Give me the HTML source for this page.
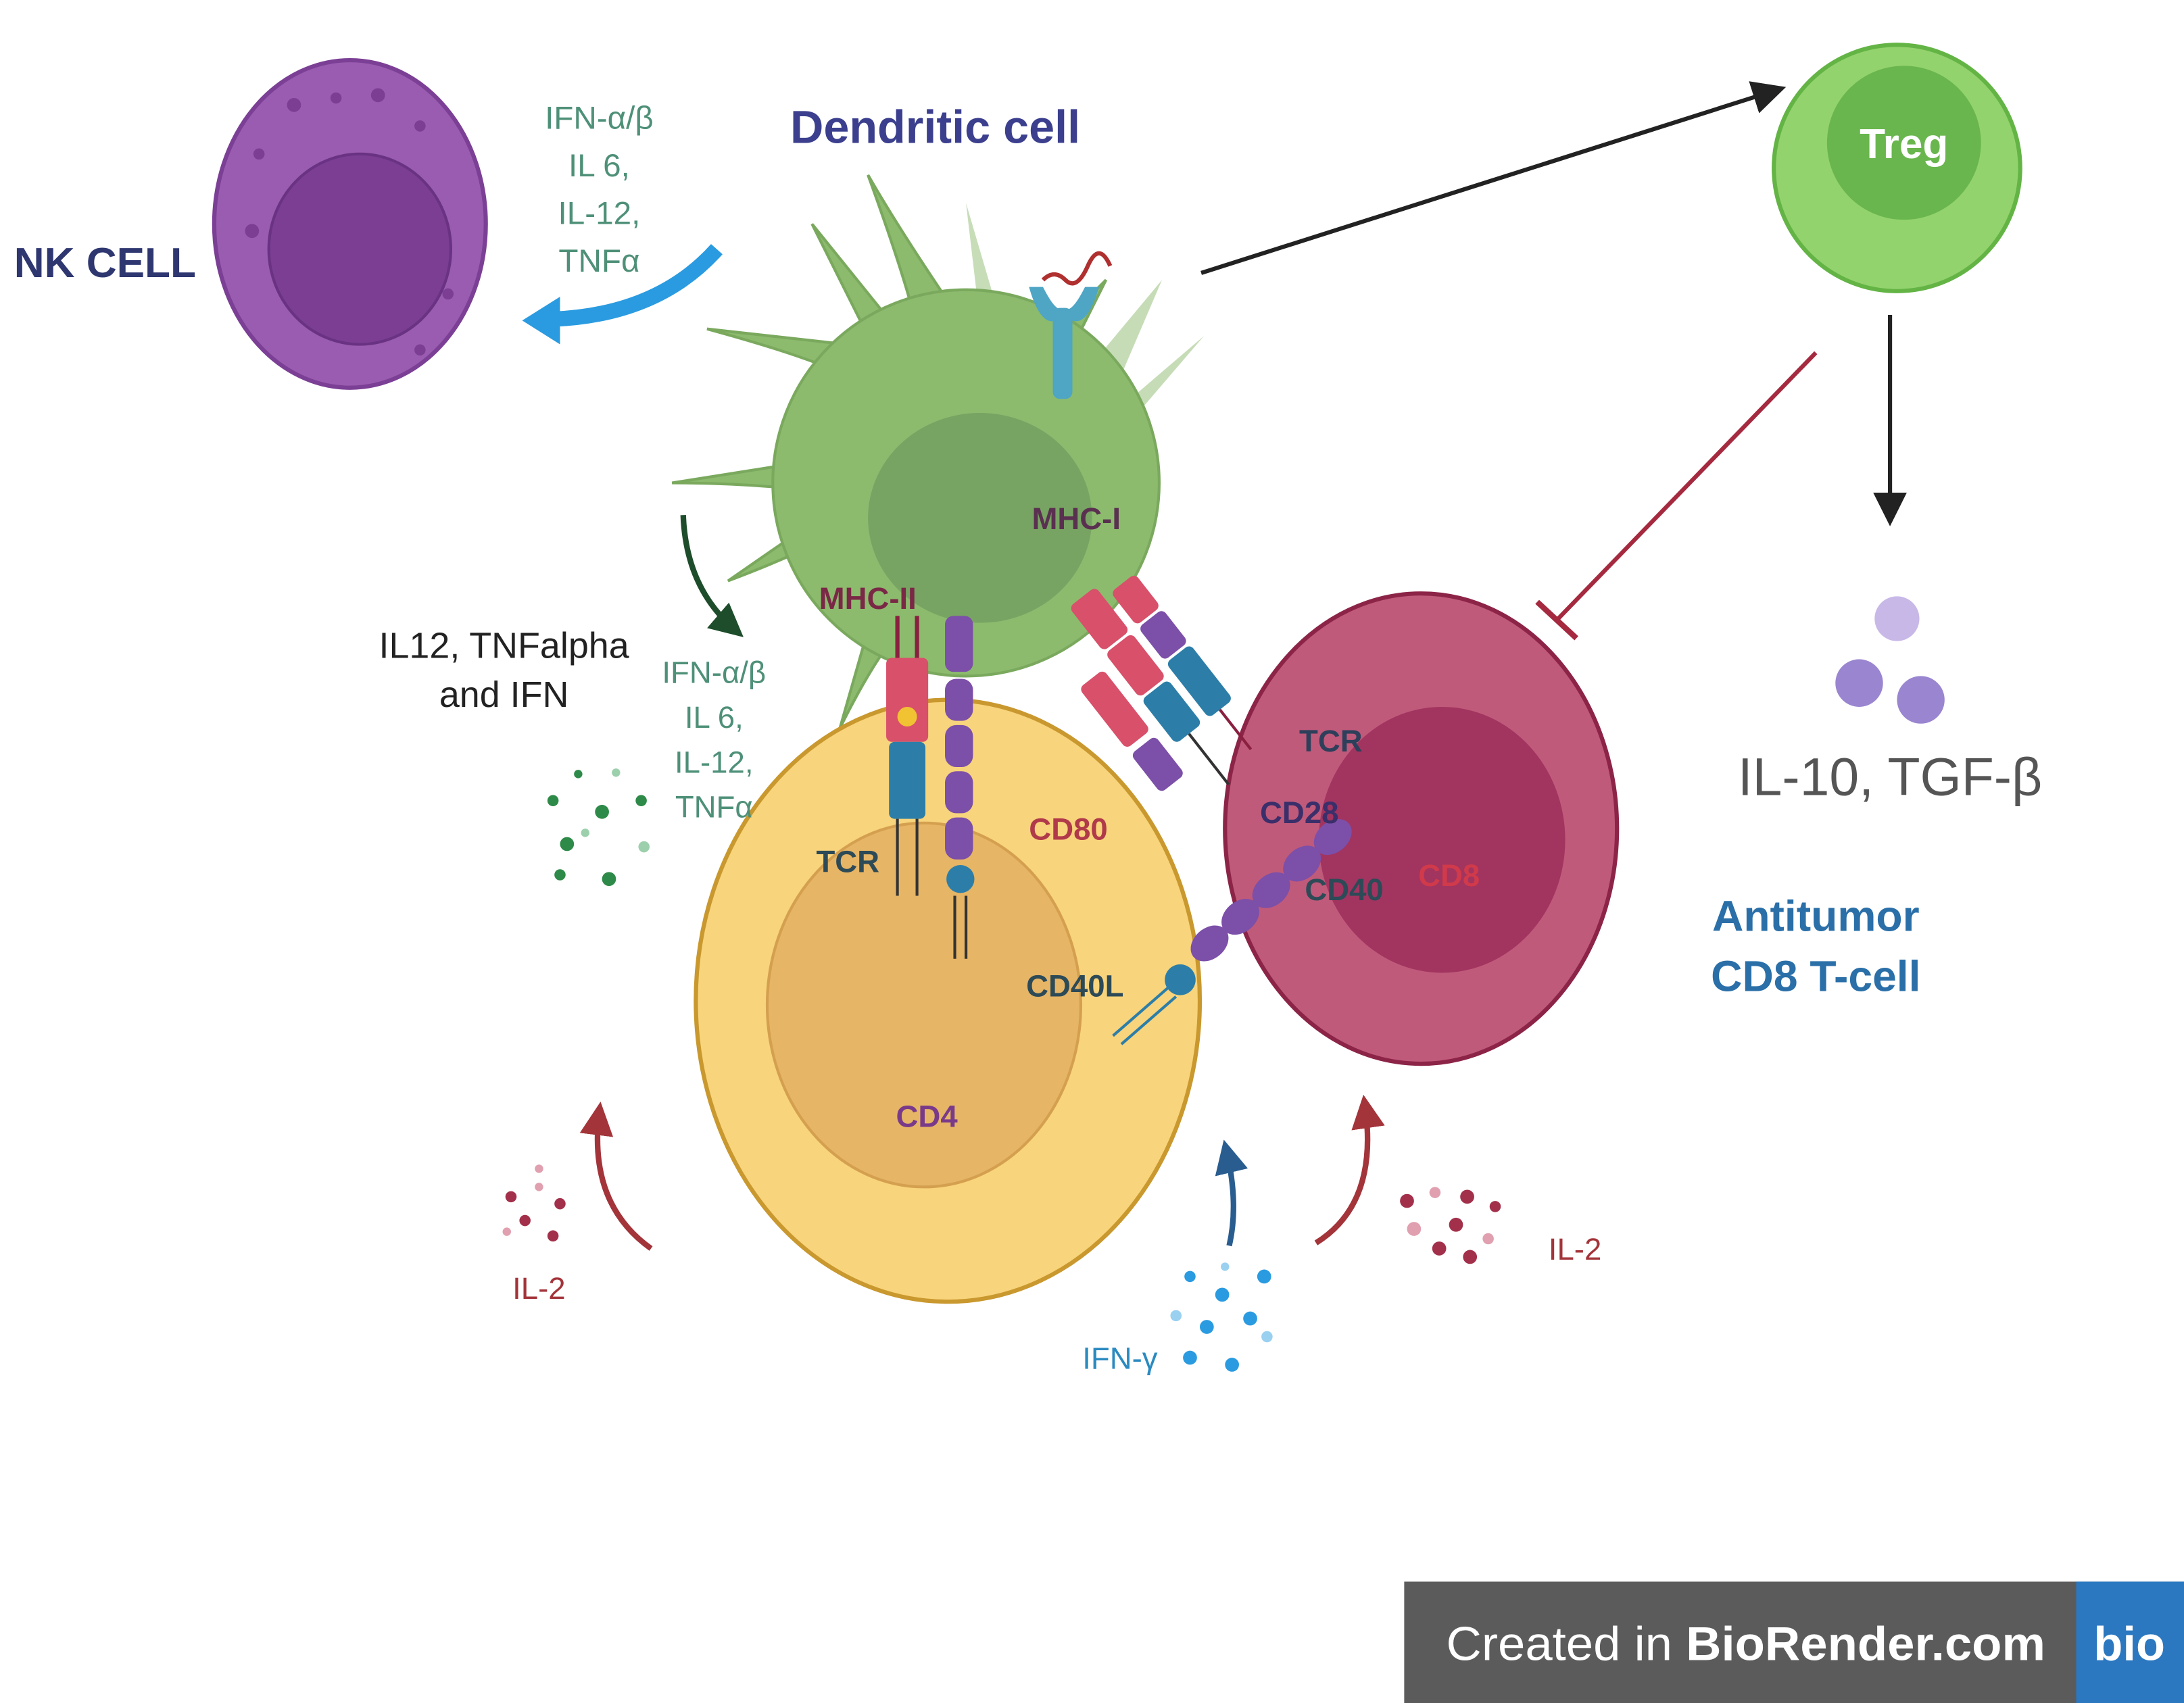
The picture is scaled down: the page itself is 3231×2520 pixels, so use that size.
<!DOCTYPE html>
<html><head><meta charset="utf-8"><style>
html,body{margin:0;padding:0;background:#fff;}
svg{display:block;}
text{font-family:"Liberation Sans",Arial,sans-serif;}
</style></head><body>
<svg width="3231" height="2520" viewBox="0 0 1560 1216.7" xmlns="http://www.w3.org/2000/svg">
<defs>
<marker id="ab" markerWidth="8" markerHeight="8" refX="6" refY="4" orient="auto" markerUnits="strokeWidth"><path d="M0,0 L8,4 L0,8 Z" fill="#222"/></marker>
<marker id="ag" markerWidth="6" markerHeight="6" refX="4" refY="3" orient="auto" markerUnits="strokeWidth"><path d="M0,0 L6,3 L0,6 Z" fill="#1e4d2b"/></marker>
<marker id="ar" markerWidth="6" markerHeight="6" refX="4" refY="3" orient="auto" markerUnits="strokeWidth"><path d="M0,0 L6,3 L0,6 Z" fill="#a3343a"/></marker>
<marker id="abl" markerWidth="6" markerHeight="6" refX="4" refY="3" orient="auto" markerUnits="strokeWidth"><path d="M0,0 L6,3 L0,6 Z" fill="#2a5d8f"/></marker>
</defs>
<rect width="1560" height="1217" fill="#fff"/>

<!-- NK cell -->
<ellipse cx="250" cy="160" rx="97" ry="117" fill="#9a5cb0" stroke="#7b3f95" stroke-width="3"/>
<ellipse cx="257" cy="178" rx="65" ry="68" fill="#7b3e93" stroke="#6a3282" stroke-width="2"/>
<g fill="#7b3e93"><circle cx="210" cy="75" r="5"/><circle cx="240" cy="70" r="4"/><circle cx="270" cy="68" r="5"/><circle cx="185" cy="110" r="4"/><circle cx="300" cy="90" r="4"/><circle cx="180" cy="165" r="5"/><circle cx="320" cy="210" r="4"/><circle cx="300" cy="250" r="4"/></g>
<text x="10" y="198" font-size="30" font-weight="bold" fill="#2e3770" textLength="130" lengthAdjust="spacingAndGlyphs">NK CELL</text>

<g font-size="23" fill="#4e9078" text-anchor="middle">
<text x="428" y="92">IFN-α/β</text><text x="428" y="126">IL 6,</text><text x="428" y="160">IL-12,</text><text x="428" y="194">TNFα</text>
</g>
<path d="M512,178 Q470,225 395,228" fill="none" stroke="#2a9be0" stroke-width="11"/>
<path d="M373,229 L400,212 L400,246 Z" fill="#2a9be0"/>

<text x="668" y="102" font-size="33" font-weight="bold" fill="#3b3f8e" text-anchor="middle">Dendritic cell</text>

<!-- Dendritic cell -->
<g fill="#b9d4a6" opacity="0.8">
<path d="M690,145 L700,230 L715,230 Z"/><path d="M830,200 L780,260 L800,270 Z"/><path d="M860,240 L790,300 L800,310 Z"/>
</g>
<g fill="#8cbb6e" stroke="#7aa95e" stroke-width="2">
<path d="M620,125 Q640,180 650,215 L675,212 Q640,160 620,125 Z"/>
<path d="M580,160 Q600,200 615,230 L630,222 Z"/>
<path d="M505,235 Q560,250 590,262 L595,245 Z"/>
<path d="M480,345 Q530,345 575,350 L575,330 Z"/>
<path d="M520,415 Q560,400 590,385 L585,370 Z"/>
<path d="M600,520 Q620,480 635,460 L620,450 Z"/>
<path d="M790,200 Q760,230 745,250 L760,260 Z"/>
<circle cx="690" cy="345" r="138"/>
</g>
<ellipse cx="700" cy="370" rx="80" ry="75" fill="#78a463"/>
<g fill="#4ea5c4"><rect x="752" y="220" width="14" height="65" rx="5"/><path d="M735,205 Q745,240 760,225 Q775,240 785,205 L775,205 Q765,225 760,220 Q755,225 745,205 Z"/></g>
<path d="M745,200 q8,-8 16,0 t16,-10 t16,0" stroke="#b03030" stroke-width="3" fill="none"/>

<!-- arrows -->
<line x1="858" y1="195" x2="1270" y2="64" stroke="#222" stroke-width="3" marker-end="url(#ab)"/>
<line x1="1350" y1="225" x2="1350" y2="370" stroke="#222" stroke-width="3" marker-end="url(#ab)"/>
<line x1="1297" y1="252" x2="1112" y2="443" stroke="#a52a3f" stroke-width="3"/>
<line x1="1098" y1="430" x2="1126" y2="456" stroke="#a52a3f" stroke-width="4"/>

<!-- Treg -->
<circle cx="1355" cy="120" r="88" fill="#93d36e" stroke="#63b445" stroke-width="3"/>
<circle cx="1360" cy="102" r="55" fill="#6ab64e"/>
<text x="1360" y="113" font-size="30" font-weight="bold" fill="#fff" text-anchor="middle">Treg</text>

<circle cx="1355" cy="442" r="16" fill="#c8b8e8"/>
<circle cx="1328" cy="488" r="17" fill="#9a85d0"/>
<circle cx="1372" cy="500" r="17" fill="#9a85d0"/>
<text x="1350" y="568" font-size="38" fill="#555" text-anchor="middle">IL-10, TGF-β</text>

<text x="1297" y="665" font-size="31" font-weight="bold" fill="#2a6fa8" text-anchor="middle">Antitumor</text>
<text x="1297" y="708" font-size="31" font-weight="bold" fill="#2a6fa8" text-anchor="middle">CD8 T-cell</text>

<!-- CD8 cell -->
<ellipse cx="1015" cy="592" rx="140" ry="168" fill="#c05a7a" stroke="#8c2448" stroke-width="3"/>
<ellipse cx="1030" cy="600" rx="88" ry="95" fill="#a23460"/>

<!-- CD4 cell -->
<ellipse cx="677" cy="715" rx="180" ry="215" fill="#f8d47c" stroke="#c9982e" stroke-width="3"/>
<ellipse cx="660" cy="718" rx="112" ry="130" fill="#e6b566" stroke="#d4a050" stroke-width="2"/>

<!-- MHC-II / TCR -->
<rect x="633" y="470" width="30" height="60" rx="4" fill="#d8506a"/>
<circle cx="648" cy="512" r="7" fill="#f1c232"/>
<rect x="635" y="530" width="26" height="55" rx="4" fill="#2c7ea8"/>
<line x1="641" y1="440" x2="641" y2="470" stroke="#8a2040" stroke-width="3"/>
<line x1="655" y1="440" x2="655" y2="470" stroke="#8a2040" stroke-width="3"/>
<line x1="641" y1="585" x2="641" y2="640" stroke="#333" stroke-width="2"/>
<line x1="655" y1="585" x2="655" y2="640" stroke="#333" stroke-width="2"/>
<g fill="#7c4fa8"><rect x="675" y="440" width="20" height="40" rx="6"/><rect x="675" y="485" width="20" height="30" rx="8"/><rect x="675" y="518" width="20" height="30" rx="8"/><rect x="675" y="551" width="20" height="30" rx="8"/><rect x="675" y="584" width="20" height="30" rx="8"/></g>
<circle cx="686" cy="628" r="10" fill="#2c7ea8"/>
<line x1="682" y1="640" x2="682" y2="685" stroke="#333" stroke-width="2"/><line x1="690" y1="640" x2="690" y2="685" stroke="#333" stroke-width="2"/>

<!-- MHC-I / TCR diagonal -->
<g transform="rotate(-38 860 460)">
<rect x="800" y="380" width="24" height="40" rx="4" fill="#d8506a"/>
<rect x="800" y="422" width="24" height="40" rx="4" fill="#d8506a"/>
<rect x="800" y="464" width="24" height="40" rx="4" fill="#2c7ea8"/>
<rect x="830" y="390" width="22" height="30" rx="4" fill="#d8506a"/>
<rect x="830" y="422" width="22" height="30" rx="4" fill="#7c4fa8"/>
<rect x="830" y="454" width="22" height="50" rx="4" fill="#2c7ea8"/>
<rect x="770" y="430" width="22" height="55" rx="4" fill="#d8506a"/>
<rect x="770" y="490" width="22" height="35" rx="4" fill="#7c4fa8"/>
<line x1="840" y1="504" x2="840" y2="540" stroke="#8a2040" stroke-width="2"/>
<line x1="812" y1="504" x2="812" y2="550" stroke="#333" stroke-width="2"/>
</g>
<!-- CD40 / CD40L (down-left) -->
<g fill="#7c4fa8">
<ellipse cx="952" cy="598" rx="11" ry="15" transform="rotate(50 952 598)"/>
<ellipse cx="930" cy="617" rx="11" ry="15" transform="rotate(50 930 617)"/>
<ellipse cx="908" cy="636" rx="11" ry="15" transform="rotate(50 908 636)"/>
<ellipse cx="886" cy="655" rx="11" ry="15" transform="rotate(50 886 655)"/>
<ellipse cx="864" cy="674" rx="11" ry="15" transform="rotate(50 864 674)"/>
</g>
<circle cx="843" cy="700" r="11" fill="#2c7ea8"/>
<line x1="834" y1="706" x2="795" y2="740" stroke="#2c7ea8" stroke-width="2"/>
<line x1="840" y1="712" x2="801" y2="746" stroke="#2c7ea8" stroke-width="2"/>

<g font-weight="bold" font-size="22">
<text x="585" y="435" fill="#7a2846">MHC-II</text>
<text x="737" y="378" fill="#5a3050">MHC-I</text>
<text x="583" y="623" fill="#2d4a57">TCR</text>
<text x="928" y="537" fill="#2d3f5a">TCR</text>
<text x="735" y="600" fill="#b03a4a">CD80</text>
<text x="900" y="588" fill="#3a2f6a">CD28</text>
<text x="932" y="643" fill="#2d4a57">CD40</text>
<text x="1013" y="633" fill="#d03a4a">CD8</text>
<text x="733" y="712" fill="#2d4a57">CD40L</text>
<text x="640" y="805" fill="#7a3a8a">CD4</text>
</g>

<text x="360" y="470" font-size="26" fill="#222" text-anchor="middle">IL12, TNFalpha</text>
<text x="360" y="505" font-size="26" fill="#222" text-anchor="middle">and IFN</text>
<g font-size="22" fill="#4e9078" text-anchor="middle">
<text x="510" y="488">IFN-α/β</text><text x="510" y="520">IL 6,</text><text x="510" y="552">IL-12,</text><text x="510" y="584">TNFα</text>
</g>
<path d="M488,368 Q490,420 525,450" fill="none" stroke="#1e4d2b" stroke-width="4" marker-end="url(#ag)"/>
<g fill="#2e8a48"><circle cx="395" cy="572" r="4"/><circle cx="430" cy="580" r="5"/><circle cx="458" cy="572" r="4"/><circle cx="413" cy="553" r="3"/><circle cx="440" cy="552" r="3" fill="#9cd0ac"/><circle cx="405" cy="603" r="5"/><circle cx="435" cy="628" r="5"/><circle cx="400" cy="625" r="4"/><circle cx="460" cy="605" r="4" fill="#9cd0ac"/><circle cx="418" cy="595" r="3" fill="#9cd0ac"/></g>

<!-- bottom arrows -->
<path d="M465,892 Q420,860 428,795" fill="none" stroke="#a3343a" stroke-width="4" marker-end="url(#ar)"/>
<path d="M940,888 Q985,860 975,790" fill="none" stroke="#a3343a" stroke-width="4" marker-end="url(#ar)"/>
<path d="M878,890 Q885,860 876,822" fill="none" stroke="#2a5d8f" stroke-width="4" marker-end="url(#abl)"/>
<g fill="#a3304a"><circle cx="365" cy="855" r="4"/><circle cx="385" cy="848" r="3" fill="#e0a0b0"/><circle cx="400" cy="860" r="4"/><circle cx="375" cy="872" r="4"/><circle cx="395" cy="883" r="4"/><circle cx="362" cy="880" r="3" fill="#e0a0b0"/><circle cx="385" cy="835" r="3" fill="#e0a0b0"/></g>
<text x="385" y="928" font-size="22" fill="#a3343a" text-anchor="middle">IL-2</text>
<g fill="#a3304a"><circle cx="1005" cy="858" r="5"/><circle cx="1025" cy="852" r="4" fill="#e0a0b0"/><circle cx="1048" cy="855" r="5"/><circle cx="1068" cy="862" r="4"/><circle cx="1010" cy="878" r="5" fill="#e0a0b0"/><circle cx="1040" cy="875" r="5"/><circle cx="1063" cy="885" r="4" fill="#e0a0b0"/><circle cx="1028" cy="892" r="5"/><circle cx="1050" cy="898" r="5"/></g>
<text x="1125" y="900" font-size="22" fill="#a3343a" text-anchor="middle">IL-2</text>
<g fill="#2a9be0"><circle cx="850" cy="912" r="4"/><circle cx="873" cy="925" r="5"/><circle cx="903" cy="912" r="5"/><circle cx="840" cy="940" r="4" fill="#9ad0f0"/><circle cx="862" cy="948" r="5"/><circle cx="893" cy="942" r="5"/><circle cx="905" cy="955" r="4" fill="#9ad0f0"/><circle cx="850" cy="970" r="5"/><circle cx="880" cy="975" r="5"/><circle cx="875" cy="905" r="3" fill="#9ad0f0"/></g>
<text x="800" y="978" font-size="22" fill="#2a8ac0" text-anchor="middle">IFN-γ</text>

<!-- BioRender badge -->
<rect x="1003" y="1130" width="557" height="87" fill="#5b5b5b"/>
<rect x="1483" y="1130" width="77" height="87" fill="#2b78c0"/>
<text x="1033" y="1186" font-size="34" fill="#fff" textLength="428" lengthAdjust="spacingAndGlyphs">Created in <tspan font-weight="bold">BioRender.com</tspan></text>
<text x="1521" y="1186" font-size="34" font-weight="bold" fill="#fff" text-anchor="middle">bio</text>
</svg>
</body></html>
